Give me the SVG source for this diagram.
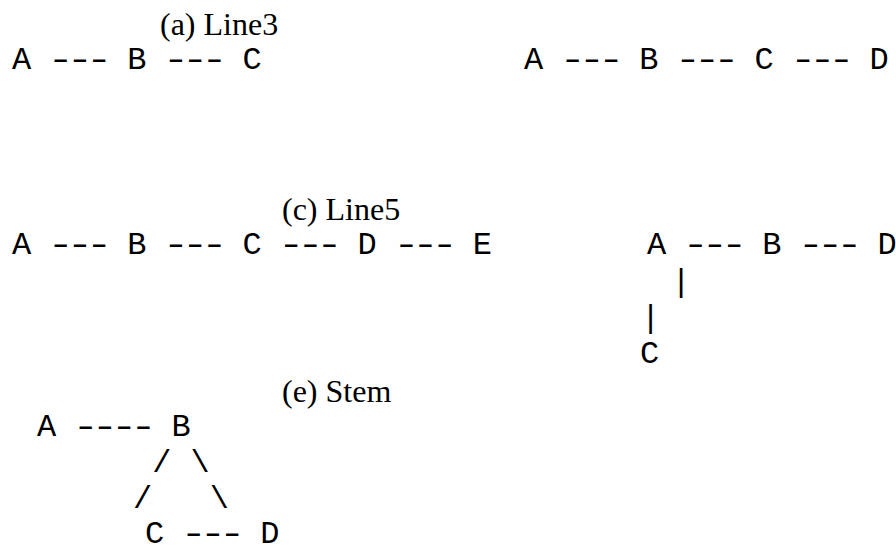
<svg xmlns="http://www.w3.org/2000/svg" width="896" height="546" viewBox="0 0 896 546">
  <style>
    .mono { font-family: "Liberation Mono", "Courier New", monospace; font-size: 32px; fill: #000; white-space: pre; }
    .cap { font-family: "Liberation Serif", "Times New Roman", serif; font-size: 32px; fill: #000; }
  </style>
  <rect width="896" height="546" fill="#fff"/>

  <!-- captions -->
  <g id="captions">
    <text class="cap" x="160" y="35">(a) Line3</text>
    <text class="cap" x="282" y="220">(c) Line5</text>
    <text class="cap" x="282" y="402">(e) Stem</text>
  </g>

  <!-- (a) Line3 -->
  <g id="a-A"><text class="mono" x="12" y="69">A</text></g>
  <g id="a-B"><text class="mono" x="127.2" y="69">B</text></g>
  <g id="a-C"><text class="mono" x="242.4" y="69">C</text></g>

  <!-- (b) Line4 -->
  <g id="b-A"><text class="mono" x="524" y="69">A</text></g>
  <g id="b-B"><text class="mono" x="639.2" y="69">B</text></g>
  <g id="b-C"><text class="mono" x="754.4" y="69">C</text></g>
  <g id="b-D"><text class="mono" x="869.6" y="69">D</text></g>

  <!-- (c) Line5 -->
  <g id="c-A"><text class="mono" x="12" y="254">A</text></g>
  <g id="c-B"><text class="mono" x="127.2" y="254">B</text></g>
  <g id="c-C"><text class="mono" x="242.4" y="254">C</text></g>
  <g id="c-D"><text class="mono" x="357.6" y="254">D</text></g>
  <g id="c-E"><text class="mono" x="472.8" y="254">E</text></g>

  <!-- (d) branch -->
  <g id="d-A"><text class="mono" x="647" y="254">A</text></g>
  <g id="d-B"><text class="mono" x="762.2" y="254">B</text></g>
  <g id="d-D"><text class="mono" x="877.4" y="254">D</text></g>
  <g id="d-C"><text class="mono" x="640" y="363">C</text></g>

  <!-- (e) Stem -->
  <g id="e-A"><text class="mono" x="37" y="436">A</text></g>
  <g id="e-B"><text class="mono" x="171.4" y="436">B</text></g>
  <g id="e-C"><text class="mono" x="145" y="543">C</text></g>
  <g id="e-D"><text class="mono" x="260.2" y="543">D</text></g>

  <!-- connectors: ASCII strokes; hyphen runs are widened 1.4x so each dash fills its cell -->
  <g id="connectors">
    <text class="mono" transform="translate(50.4,69) scale(1.4,1)" x="-2.21 11.5 25.21" y="0">---</text>
    <text class="mono" transform="translate(165.6,69) scale(1.4,1)" x="-2.21 11.5 25.21" y="0">---</text>

    <text class="mono" transform="translate(562.4,69) scale(1.4,1)" x="-2.21 11.5 25.21" y="0">---</text>
    <text class="mono" transform="translate(677.6,69) scale(1.4,1)" x="-2.21 11.5 25.21" y="0">---</text>
    <text class="mono" transform="translate(792.8,69) scale(1.4,1)" x="-2.21 11.5 25.21" y="0">---</text>

    <text class="mono" transform="translate(50.4,254) scale(1.4,1)" x="-2.21 11.5 25.21" y="0">---</text>
    <text class="mono" transform="translate(165.6,254) scale(1.4,1)" x="-2.21 11.5 25.21" y="0">---</text>
    <text class="mono" transform="translate(280.8,254) scale(1.4,1)" x="-2.21 11.5 25.21" y="0">---</text>
    <text class="mono" transform="translate(396,254) scale(1.4,1)" x="-2.21 11.5 25.21" y="0">---</text>

    <text class="mono" transform="translate(685.4,254) scale(1.4,1)" x="-2.21 11.5 25.21" y="0">---</text>
    <text class="mono" transform="translate(800.6,254) scale(1.4,1)" x="-2.21 11.5 25.21" y="0">---</text>
    <text class="mono" x="671.4" y="291">|</text>
    <text class="mono" x="641" y="327">|</text>

    <text class="mono" transform="translate(75.4,436) scale(1.4,1)" x="-2.21 11.5 25.21 38.93" y="0">----</text>
    <text class="mono" x="152.2" y="472">/</text>
    <text class="mono" x="190.6" y="472">\</text>
    <text class="mono" x="133" y="508">/</text>
    <text class="mono" x="209.8" y="508">\</text>
    <text class="mono" transform="translate(183.4,543) scale(1.4,1)" x="-2.21 11.5 25.21" y="0">---</text>
  </g>
</svg>
